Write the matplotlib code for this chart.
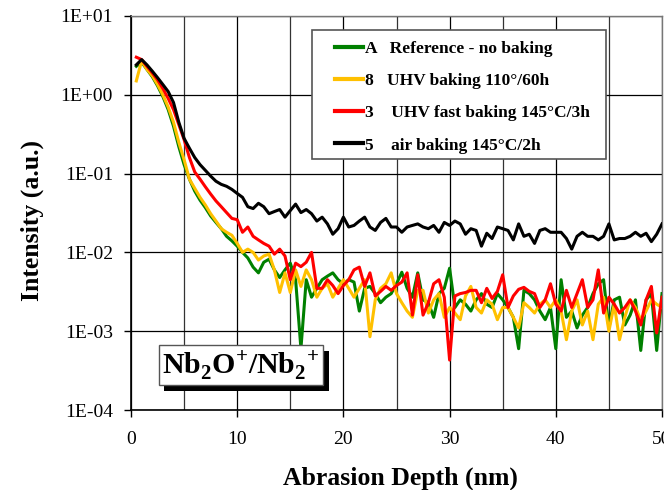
import numpy as np
import matplotlib
matplotlib.use("Agg")
import matplotlib.pyplot as plt
from matplotlib.patches import Rectangle
from matplotlib import patheffects

plt.rcParams['font.family'] = ['Liberation Serif', 'DejaVu Serif']
plt.rcParams['mathtext.fontset'] = 'custom'
plt.rcParams['mathtext.rm'] = 'Liberation Serif'
plt.rcParams['mathtext.bf'] = 'Liberation Serif:bold'

# depth grid (nm), one sample every 0.5 nm
depth = np.arange(1, 101) * 0.5

green_A = [2.3, 2.6, 2.1, 1.7, 1.3, 0.95, 0.65, 0.4, 0.22, 0.13,
           0.085, 0.06, 0.046, 0.037, 0.029, 0.024, 0.02, 0.016, 0.014, 0.012,
           0.01, 0.0085, 0.0065, 0.0055, 0.0075, 0.0082, 0.006, 0.0048, 0.006, 0.0073,
           0.0045, 0.0006, 0.0045, 0.0027, 0.0035, 0.0045, 0.005, 0.0055, 0.0045, 0.004,
           0.0045, 0.0042, 0.0018, 0.0035, 0.0037, 0.003, 0.0023, 0.0027, 0.003, 0.004,
           0.0056, 0.0035, 0.0027, 0.0055, 0.0025, 0.0023, 0.0015, 0.003, 0.0035, 0.0063,
           0.002, 0.0025, 0.0022, 0.0018, 0.0025, 0.003, 0.0022, 0.002, 0.003, 0.0025,
           0.002, 0.0015, 0.0006, 0.0033, 0.003, 0.0025, 0.0018, 0.0014, 0.002, 0.0006,
           0.0045, 0.0015, 0.0018, 0.0011, 0.0016, 0.002, 0.003, 0.004, 0.0045, 0.0011,
           0.0025, 0.0027, 0.0012, 0.0016, 0.0025, 0.00057, 0.0025, 0.003, 0.00057, 0.003]

yellow_8 = [1.5, 2.7, 2.1, 1.75, 1.35, 1.0, 0.7, 0.45, 0.25, 0.15,
            0.085, 0.065, 0.05, 0.04, 0.031, 0.025, 0.02, 0.018, 0.0165, 0.013,
            0.01, 0.011, 0.01, 0.008, 0.009, 0.0095, 0.006, 0.0031, 0.0055, 0.0031,
            0.006, 0.0037, 0.006, 0.0045, 0.0027, 0.0035, 0.004, 0.0027, 0.0035, 0.0045,
            0.0035, 0.0027, 0.0035, 0.0045, 0.00085, 0.0025, 0.0035, 0.004, 0.0055, 0.003,
            0.0023, 0.0018, 0.0015, 0.0033, 0.0033, 0.0017, 0.0025, 0.003, 0.0015, 0.002,
            0.0017, 0.0014, 0.0028, 0.0037, 0.002, 0.0017, 0.0025, 0.0022, 0.0014, 0.002,
            0.002, 0.0015, 0.0011, 0.0023, 0.002, 0.0017, 0.0022, 0.0025, 0.002, 0.0025,
            0.0018, 0.00078, 0.0018, 0.0025, 0.0012, 0.0018, 0.00078, 0.0022, 0.0027, 0.001,
            0.0022, 0.00078, 0.0015, 0.0025, 0.002, 0.0014, 0.0018, 0.0025, 0.0022, 0.002]

red_3 = [3.0, 2.8, 2.3, 1.9, 1.55, 1.2, 0.9, 0.65, 0.42, 0.27,
         0.16, 0.105, 0.085, 0.068, 0.055, 0.045, 0.038, 0.032, 0.027, 0.026,
         0.018, 0.021, 0.016, 0.0144, 0.013, 0.012, 0.0095, 0.011, 0.009, 0.0045,
         0.0073, 0.0066, 0.0075, 0.01, 0.0035, 0.0035, 0.0045, 0.0038, 0.003, 0.0038,
         0.0045, 0.006, 0.0065, 0.0037, 0.0055, 0.0028, 0.0032, 0.0037, 0.0033, 0.0038,
         0.0042, 0.0055, 0.0016, 0.0052, 0.0016, 0.0023, 0.004, 0.0045, 0.0027, 0.00043,
         0.0028, 0.003, 0.0031, 0.0033, 0.0033, 0.0023, 0.0035, 0.0026, 0.0032, 0.0052,
         0.002, 0.0028, 0.0034, 0.0036, 0.0032, 0.003, 0.002, 0.0025, 0.004, 0.0022,
         0.0018, 0.0033, 0.002, 0.003, 0.0045, 0.002, 0.0025, 0.006, 0.0017, 0.0027,
         0.0022, 0.0017, 0.002, 0.0025, 0.0018, 0.0012, 0.0025, 0.0037, 0.00095, 0.0027]

black_5 = [2.4, 2.8, 2.4, 2.0, 1.65, 1.35, 1.1, 0.8, 0.45, 0.28,
           0.21, 0.16, 0.13, 0.11, 0.093, 0.08, 0.073, 0.069, 0.063, 0.056,
           0.05, 0.038, 0.036, 0.042, 0.038, 0.031, 0.033, 0.035, 0.028, 0.034,
           0.041, 0.032, 0.035, 0.031, 0.025, 0.028, 0.023, 0.017, 0.02, 0.028,
           0.021, 0.022, 0.025, 0.028, 0.021, 0.019, 0.024, 0.027, 0.021, 0.021,
           0.018, 0.021, 0.022, 0.023, 0.021, 0.02, 0.022, 0.018, 0.024, 0.022,
           0.025, 0.023, 0.017, 0.02, 0.019, 0.012, 0.0175, 0.015, 0.021, 0.02,
           0.019, 0.0144, 0.023, 0.016, 0.017, 0.013, 0.019, 0.02, 0.018, 0.018,
           0.018, 0.015, 0.011, 0.016, 0.018, 0.016, 0.016, 0.0144, 0.016, 0.023,
           0.0144, 0.015, 0.015, 0.016, 0.018, 0.016, 0.0175, 0.0137, 0.017, 0.023]

series = [green_A, yellow_8, red_3, black_5]
labels = ["A   Reference - no baking",
          "8   UHV baking 110\u00b0/60h",
          "3    UHV fast baking 145\u00b0C/3h",
          "5    air baking 145\u00b0C/2h"]
colors = ['#008000', '#FFC000', '#FF0000', '#000000']

x_ticks = [0, 10, 20, 30, 40, 50]
y_ticks = [1e-4, 1e-3, 1e-2, 1e-1, 1e0, 1e1]
y_tick_labels = ['1E-04', '1E-03', '1E-02', '1E-01', '1E+00', '1E+01']

fig = plt.figure(figsize=(6.64, 4.9), dpi=100)
ax = fig.add_axes([131 / 664, 1 - 410 / 490, 531 / 664, 394 / 490])

for vals, lab, col in zip(series, labels, colors):
    ax.plot(depth, vals, color=col, lw=2.2, label=lab, zorder=3)

ax.set_yscale('log')
ax.set_xlim(0, 50)
ax.set_ylim(1e-4, 1e1)
ax.set_yticks(y_ticks)
ax.set_yticklabels(y_tick_labels)
ax.yaxis.set_minor_locator(matplotlib.ticker.NullLocator())
ax.set_xticks(x_ticks)
ax.set_xticks(np.arange(5, 50, 10), minor=True)
ax.tick_params(axis='both', which='major', direction='out', length=5,
               width=1, labelsize=14, color='black')
ax.tick_params(axis='x', which='major', pad=10)
ax.tick_params(axis='y', which='major', pad=8)
ax.tick_params(axis='x', which='minor', length=0)
ax.grid(which='major', color='black', lw=0.9)
ax.grid(which='minor', axis='x', color='#333333', lw=0.9)
ax.set_axisbelow(True)
for side in ['left', 'bottom']:
    ax.spines[side].set_color('black')
    ax.spines[side].set_linewidth(1.2)
for side in ['top', 'right']:
    ax.spines[side].set_color('#777777')
    ax.spines[side].set_linewidth(1.0)

fig.text(400 / 664, 1 - 478 / 490, 'Abrasion Depth (nm)', ha='center', va='center',
         fontsize=18.5, fontweight='bold')
fig.text(32 / 664, 1 - 220 / 490, 'Intensity (a.u.)', ha='center', va='center',
         rotation=90, fontsize=18.5, fontweight='bold')

# legend frame drawn separately so its size matches the original
ax.add_patch(Rectangle((0.341, 0.637), 0.554, 0.327, transform=ax.transAxes,
                       facecolor='white', edgecolor='#555555', lw=1.2, zorder=4))
leg = ax.legend(loc='upper left', bbox_to_anchor=(335 / 664, 1 - 41 / 490),
                bbox_transform=fig.transFigure, frameon=False, borderpad=0,
                borderaxespad=0, handlelength=1.6, handletextpad=0.1,
                labelspacing=0.92, prop={'weight': 'bold', 'size': 12.5})
leg.set_zorder(5)
for h in leg.get_lines():
    h.set_linewidth(3)

txt = ax.text(0.207, 0.114,
              r'$\mathbf{Nb}_\mathbf{2}\mathbf{O}^\mathbf{+}\mathbf{/Nb}_\mathbf{2}{}^\mathbf{+}$',
              transform=ax.transAxes, ha='center', va='center', fontsize=21.5, zorder=6,
              bbox=dict(boxstyle='square,pad=0.12', facecolor='white',
                        edgecolor='#555555', lw=1.0))
txt.get_bbox_patch().set_path_effects([
    patheffects.withSimplePatchShadow(offset=(4, -4), shadow_rgbFace='black', alpha=1.0)])

fig.savefig('out.png', dpi=100)
